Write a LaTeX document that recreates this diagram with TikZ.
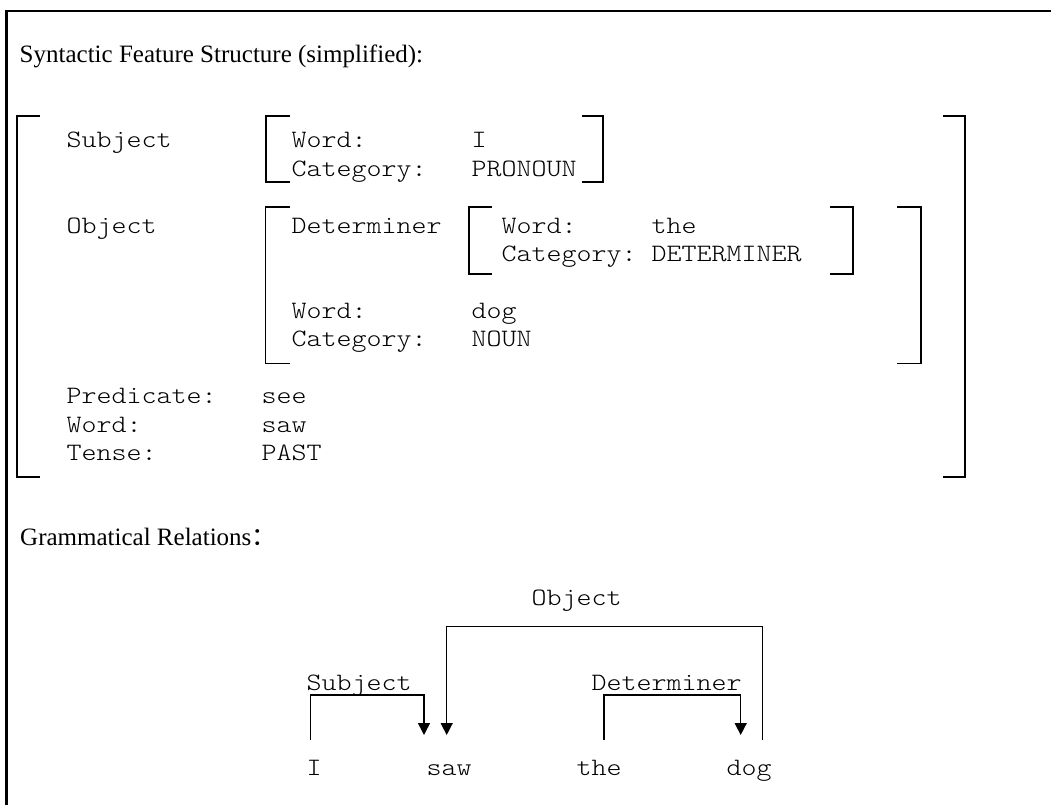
\documentclass[tikz,border=0pt]{standalone}
\usepackage{fontspec}
\setmainfont{Liberation Serif}
\newfontfamily\monofs{lmmonolt10-regular.otf}[FakeStretch=1.1429]
\newfontfamily\cjkfs{Noto Sans CJK SC}
\usetikzlibrary{arrows.meta}
\newcommand\fsText[4]{\node[mtxt] (#1) at ({66.5+15*#2},{148+28.4*#3}) {#4};}
\begin{document}
\begin{tikzpicture}[x=1pt,y=-1pt,
  mtxt/.style={font=\monofs\fontsize{25}{30}\selectfont, anchor=base west, inner sep=0pt},
  stxt/.style={font=\fontsize{25}{30}\selectfont, anchor=base west, inner sep=0pt},
  brk/.style={line width=1.7pt},
  dep/.style={line width=1.5pt},
  arr/.style={dep,-{Triangle[width=12pt,length=12pt]}}]
\useasboundingbox (0,0) rectangle (1051,805);
\draw[line width=2.2pt] (6.5,805) -- (6.5,11) -- (1051,11);

% titles
\node[stxt] (title1) at (19.5,63) {Syntactic Feature Structure (simplified):};
\node[stxt] (title2) at (20,545) {Grammatical Relations{\cjkfs ：}};

% feature structure text
\fsText{subj}{0}{0}{Subject}
\fsText{sw}{15}{0}{Word:}
\fsText{swv}{27}{0}{I}
\fsText{sc}{15}{1}{Category:}
\fsText{scv}{27}{1}{PRONOUN}
\fsText{obj}{0}{3}{Object}
\fsText{det}{15}{3}{Determiner}
\fsText{dw}{29}{3}{Word:}
\fsText{dwv}{39}{3}{the}
\fsText{dc}{29}{4}{Category:}
\fsText{dcv}{39}{4}{DETERMINER}
\fsText{ow}{15}{6}{Word:}
\fsText{owv}{27}{6}{dog}
\fsText{oc}{15}{7}{Category:}
\fsText{ocv}{27}{7}{NOUN}
\fsText{pred}{0}{9}{Predicate:}
\fsText{predv}{13}{9}{see}
\fsText{pw}{0}{10}{Word:}
\fsText{pwv}{13}{10}{saw}
\fsText{pt}{0}{11}{Tense:}
\fsText{ptv}{13}{11}{PAST}

% brackets
\draw[brk] (40,116) -- (17,116) -- (17,477) -- (40,477);
\draw[brk] (943,116) -- (965,116) -- (965,477) -- (943,477);
\draw[brk] (290,116) -- (265.7,116) -- (265.7,182) -- (290,182);
\draw[brk] (582,116) -- (603,116) -- (603,182) -- (582,182);
\draw[brk] (289.5,206.7) -- (265.5,206.7) -- (265.5,363.5) -- (289.5,363.5);
\draw[brk] (897,206.7) -- (920.7,206.7) -- (920.7,363.5) -- (897,363.5);
\draw[brk] (491.7,207) -- (469,207) -- (469,274) -- (491.7,274);
\draw[brk] (830,207) -- (852.7,207) -- (852.7,274) -- (830,274);

% dependency words and labels
\node[mtxt] (wI) at (306.5,775) {I};
\node[mtxt] (wsaw) at (426.5,775) {saw};
\node[mtxt] (wthe) at (576.5,775) {the};
\node[mtxt] (wdog) at (726.5,775) {dog};
\node[mtxt] (lsubj) at (306.5,690) {Subject};
\node[mtxt] (lobj) at (531.5,605) {Object};
\node[mtxt] (ldet) at (591.5,690) {Determiner};

\coordinate (fI) at (310.7,740);
\coordinate (tsawA) at (424,735);
\coordinate (fdog) at (762.3,740);
\coordinate (tsawB) at (446.7,735);
\coordinate (fthe) at (604,740);
\coordinate (tdog) at (740.7,735);

\draw[arr] (fI) -- ++(0,-45) -| (tsawA);
\draw[arr] (fdog) -- ++(0,-113.3) -| (tsawB);
\draw[arr] (fthe) -- ++(0,-45) -| (tdog);
\end{tikzpicture}
\end{document}
